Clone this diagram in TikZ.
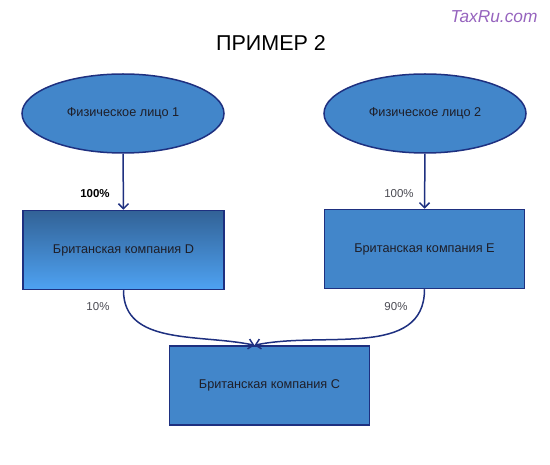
\documentclass[tikz,border=0pt]{standalone}
\usepackage{fontspec}
\setmainfont{Liberation Sans}
\usetikzlibrary{calc,shapes.geometric,arrows.meta}

\definecolor{fuell}{RGB}{66,134,202}
\definecolor{rand}{RGB}{30,48,128}
\definecolor{dunkel}{RGB}{50,98,150}
\definecolor{hell}{RGB}{78,162,242}
\definecolor{schrift}{RGB}{30,30,40}
\definecolor{marke}{RGB}{150,100,190}

\tikzset{
  person/.style={ellipse, draw=rand, fill=fuell, line width=1.5pt, minimum width=202pt, minimum height=79pt, inner sep=0pt, text=schrift, font=\fontsize{12.7}{15}\selectfont},
  firma/.style={rectangle, draw=rand, fill=fuell, line width=1.5pt, minimum width=200pt, minimum height=79pt, inner sep=0pt, text=schrift, font=\fontsize{12.7}{15}\selectfont},
  pfeil/.style={draw=rand, line width=1.5pt, -{Straight Barb[length=5pt,width=10pt,line width=1.5pt]}},
  anteil/.style={text=schrift!80, font=\fontsize{11.5}{13}\selectfont}
}

\begin{document}
\begin{tikzpicture}[x=1pt,y=-1pt]
\useasboundingbox (0,0) rectangle (550,465);

%UEBERSCHRIFT
\node (titel) at (271,43) {\fontsize{21.5}{24}\selectfont ПРИМЕР 2};
\node[text=marke] (marke) at (494,17) {\fontsize{17.3}{19}\selectfont\itshape TaxRu.com};

%OBEN LINKS
\node[person] (p1) at (123,113.5) {Физическое лицо 1};

%OBEN RECHTS
\node[person] (p2) at (425,113.5) {Физическое лицо 2};

%MITTE LINKS
\node[firma, top color=dunkel, bottom color=hell, minimum width=201pt] (d) at (123.5,250) {Британская компания D};

%MITTE RECHTS
\node[firma] (e) at (424.5,249) {Британская компания E};

%UNTEN
\node[firma] (c) at (269.5,385.5) {Британская компания C};
\coordinate (cziel) at ($(c.north)+(-15,0)$);

%PFEILE
\draw[pfeil] (p1.south) -- (d.north);
\draw[pfeil] (p2.south) -- (e.north);
\draw[pfeil] (d.south) to[out=-90,in=168] (cziel);
\draw[pfeil] (e.south) to[out=-90,in=12] (cziel);

%ANTEILE
\node[anteil, text=black, font=\fontsize{11.5}{13}\selectfont\bfseries] (a1) at (95,194) {100\%};
\node[anteil] (a2) at (399,194) {100\%};
\node[anteil] (a3) at (98,307) {10\%};
\node[anteil] (a4) at (396,307) {90\%};

\end{tikzpicture}
\end{document}
